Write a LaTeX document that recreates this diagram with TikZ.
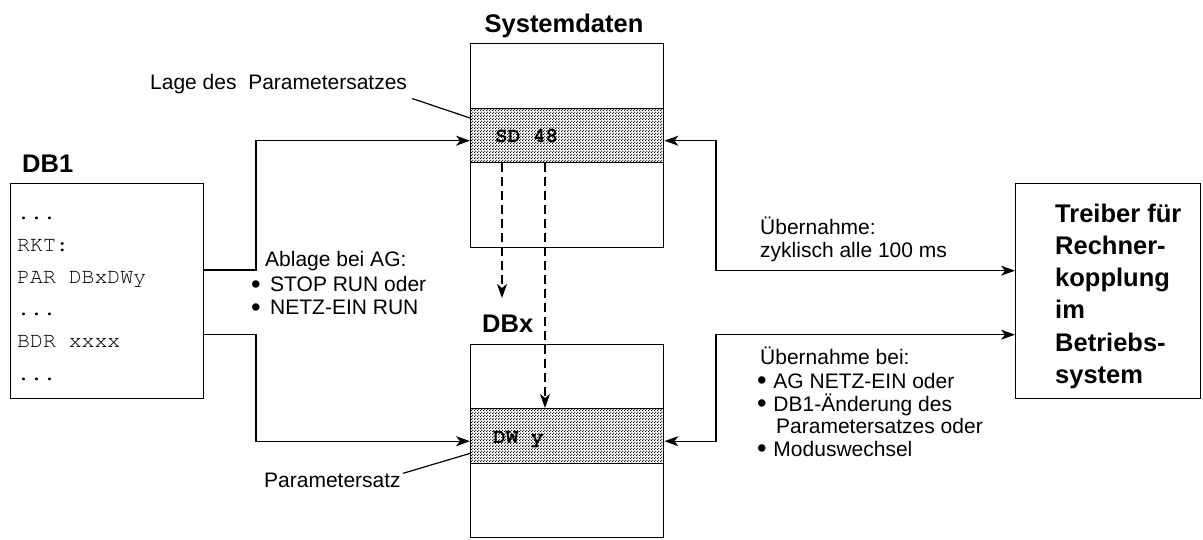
\documentclass[tikz,border=0pt]{standalone}
\usepackage{fontspec}
\setmainfont{Liberation Sans}
\setmonofont{TeX Gyre Cursor}
\usetikzlibrary{arrows.meta,patterns}
% dense stipple used for the parameter bands
\pgfdeclarepatternformonly{stipple}{\pgfpointorigin}{\pgfpoint{3pt}{3pt}}{\pgfpoint{3pt}{3pt}}{%
  \pgfpathcircle{\pgfpoint{0.75pt}{0.75pt}}{0.85pt}%
  \pgfpathcircle{\pgfpoint{2.25pt}{2.25pt}}{0.85pt}%
  \pgfusepath{fill}}
% enlarged bullet followed by a gap of the given width
\newcommand\blt[1]{\raisebox{-0.08em}{\scalebox{1.3}{\textbullet}}\hspace{#1}}
\newcommand\dts{...}
\begin{document}
\begin{tikzpicture}[x=1pt,y=-1pt,
  box/.style={draw, line width=1.4pt, inner sep=0pt, anchor=north west},
  band/.style={box, pattern=stipple},
  tip/.tip={Stealth[length=14pt,width=10pt,inset=4pt]},
  conn/.style={line width=1.4pt},
  leader/.style={line width=1.2pt},
  dashline/.style={line width=1.4pt, dash pattern=on 9pt off 5pt},
  txt/.style={font=\fontsize{21}{23}\selectfont, inner sep=0pt, anchor=base west},
  ttl/.style={font=\bfseries\fontsize{25.5}{32}\selectfont, inner sep=0pt, anchor=base west},
  mono/.style={font=\ttfamily\fontsize{21.5}{32}\selectfont, inner sep=0pt, anchor=base west},
  monob/.style={font=\ttfamily\bfseries\fontsize{21}{32}\selectfont, inner sep=0pt, anchor=base west}]
\useasboundingbox (0,0) rectangle (1203,540);

% --- system data block with parameter set location ---
\node[ttl, anchor=base] (systitle) at (564,33) {Systemdaten};
\node[box, minimum width=193pt, minimum height=204pt] (sys) at (470,43) {};
\node[band, minimum width=193pt, minimum height=54pt] (sysband) at (470,108) {};
\node[monob] (sdtxt) at (495,143) {SD 48};

% --- data block DBx with parameter set ---
\node[ttl] (dbxtitle) at (482,333) {DBx};
\node[box, minimum width=193pt, minimum height=193pt] (dbx) at (470,344) {};
\node[band, minimum width=193pt, minimum height=55pt] (dwband) at (470,408) {};
\node[monob] (dwtxt) at (493,443) {DW y};

% --- data block DB1 ---
\node[ttl] (db1title) at (22,173) {DB1};
\node[box, minimum width=193pt, minimum height=215pt] (db1) at (10,183) {};
\foreach \t [count=\i] in {\dts,RKT:,PAR DBxDWy,\dts,BDR xxxx,\dts}
  \node[mono] (db1l\i) at (17,188+32*\i) {\t};

% --- driver block ---
\node[box, minimum width=185pt, minimum height=215pt] (drv) at (1015,183) {};
\foreach \t [count=\i] in {Treiber für,Rechner-,kopplung,im,Betriebs-,system}
  \node[ttl] (drvl\i) at (1055,191+32*\i) {\t};

% --- annotations ---
\node[txt] (lage) at (150,90) {Lage des\ \ Parametersatzes};
\node[txt] (parsatz) at (264,487) {Parametersatz};
\node[txt] (abl1) at (265,267) {Ablage bei AG:};
\node[txt] (abl2) at (251,292) {\blt{0.45em}STOP RUN oder};
\node[txt] (abl3) at (251,315) {\blt{0.45em}NETZ-EIN RUN};
\node[txt] (ueb1) at (760,235) {Übernahme:};
\node[txt] (ueb2) at (760,258) {zyklisch alle 100 ms};
\node[txt] (ubb1) at (760,364) {Übernahme bei:};
\node[txt] (ubb2) at (757,388) {\blt{0.32em}AG NETZ-EIN oder};
\node[txt] (ubb3) at (757,411) {\blt{0.32em}DB1-Änderung des};
\node[txt] (ubb4) at (776,433) {Parametersatzes oder};
\node[txt] (ubb5) at (757,456) {\blt{0.32em}Moduswechsel};

\draw[leader] ([xshift=5pt,yshift=-4pt]lage.south east) -- ([yshift=-10pt]sysband.north west);
\draw[leader] ([xshift=2pt,yshift=-1pt]parsatz.north east) -- ([yshift=11pt]dwband.south west);

% --- connectors ---
\coordinate (jl) at (256,0);
\coordinate (jr) at (716,0);
\coordinate (dtip) at (502,298);
\draw[conn, -tip] ([yshift=21pt]db1.east) -| ([yshift=-5pt]jl |- sysband.west) -- ([yshift=-5pt]sysband.west);
\draw[conn, -tip] ([yshift=-43pt]db1.east) -| ([yshift=-5pt]jl |- dwband.west) -- ([yshift=-5pt]dwband.west);
\draw[conn, tip-tip] ([yshift=-5pt]sysband.east) -| ([yshift=20.5pt]jr |- drv.west) -- ([yshift=20.5pt]drv.west);
\draw[conn, tip-tip] ([yshift=-5pt]dwband.east) -| ([yshift=-43.5pt]jr |- drv.west) -- ([yshift=-43.5pt]drv.west);

% --- copy paths from system data into DBx ---
\draw[dashline, -tip] ([xshift=32pt]sysband.south west) -- (dtip);
\draw[dashline, -tip] ([xshift=75pt]sysband.south west) -- ([xshift=75pt]dwband.north west);
\end{tikzpicture}
\end{document}
